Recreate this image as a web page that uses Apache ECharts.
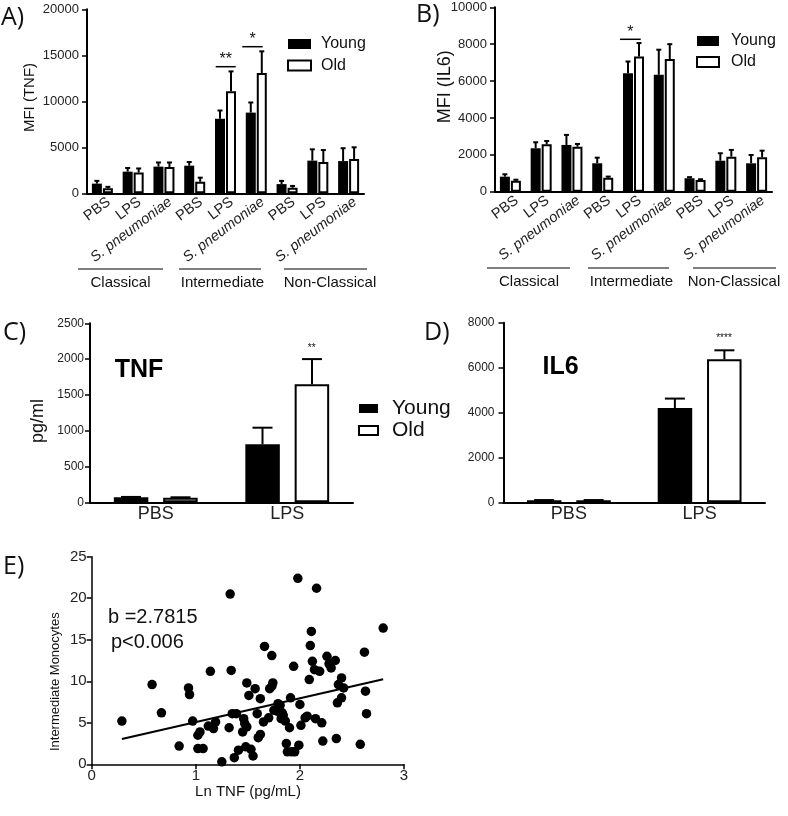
<!DOCTYPE html>
<html><head><meta charset="utf-8">
<script src="https://cdn.jsdelivr.net/npm/echarts@6/dist/echarts.min.js"></script>
<style>html,body{margin:0;padding:0;background:#fff}#c{width:788px;height:816px}</style>
</head><body><div id="c"></div>
<script>
// ---------- DATA ----------
const cellGroups = ['Classical', 'Intermediate', 'Non-Classical'];
const stimuli = ['PBS', 'LPS', 'S. pneumoniae'];
const categoriesAB = cellGroups.flatMap(() => stimuli);

// Panel A: MFI (TNF)
const youngTNF_MFI = [1050, 2350, 2900, 3000, 8100, 8770, 1000, 3550, 3500];
const youngTNF_MFI_err = [300, 400, 450, 400, 900, 1100, 350, 1230, 1400];
const oldTNF_MFI = [550, 2250, 2850, 1250, 11100, 13080, 600, 3400, 3730];
const oldTNF_MFI_err = [150, 450, 500, 450, 2150, 2350, 200, 1300, 1270];
const ticksA = { min: 0, max: 20000, interval: 5000 };

// Panel B: MFI (IL6)
const youngIL6_MFI = [815, 2355, 2535, 1540, 6430, 6340, 730, 1680, 1540];
const youngIL6_MFI_err = [130, 325, 545, 305, 630, 1360, 60, 405, 450];
const oldIL6_MFI = [600, 2570, 2440, 760, 7330, 7190, 635, 1900, 1870];
const oldIL6_MFI_err = [50, 180, 150, 60, 730, 810, 40, 365, 355];
const ticksB = { min: 0, max: 10000, interval: 2000 };

// Panel C / D: secreted cytokines (pg/ml)
const categoriesCD = ['PBS', 'LPS'];
const youngTNF = [70, 810];
const youngTNF_err = [5, 232];
const oldTNF = [65, 1650];
const oldTNF_err = [5, 350];
const ticksC = { min: 0, max: 2500, interval: 500 };
const youngIL6 = [90, 4200];
const youngIL6_err = [10, 420];
const oldIL6 = [90, 6370];
const oldIL6_err = [10, 400];
const ticksD = { min: 0, max: 8000, interval: 2000 };

// Panel E: scatter [Ln TNF, Intermediate Monocytes]
const scatterPoints = [
  [0.29,5.2],[0.58,9.6],[0.67,6.2],[0.84,2.2],[0.93,9.2],[0.94,8.4],[0.97,5.2],[1.02,3.5],[1.04,3.9],[1.02,1.9],
  [1.07,1.9],[1.14,11.2],[1.12,4.6],[1.17,4.3],[1.19,5.1],[1.25,0.3],[1.33,20.5],[1.34,11.3],[1.32,4.4],[1.35,6.1],
  [1.39,6.1],[1.37,0.8],[1.41,1.7],[1.46,5.5],[1.45,3.9],[1.47,4.9],[1.49,9.8],[1.51,8.3],[1.49,4.5],[1.48,2.1],
  [1.53,1.8],[1.55,1.0],[1.57,9.1],[1.59,6.1],[1.60,3.2],[1.62,3.6],[1.62,7.9],[1.65,5.1],[1.66,14.2],[1.70,5.6],
  [1.71,9.1],[1.73,13.1],[1.74,9.8],[1.73,9.4],[1.75,6.5],[1.78,6.4],[1.81,7.1],[1.79,7.3],[1.83,6.2],[1.82,5.5],
  [1.86,5.2],[1.84,5.9],[1.87,2.5],[1.88,1.5],[1.90,4.4],[1.91,8.0],[1.92,1.5],[1.94,11.8],[1.95,1.5],[1.98,22.4],
  [1.99,2.3],[2.00,7.2],[2.01,4.7],[2.05,5.6],[2.07,5.8],[2.09,10.2],[2.10,14.3],[2.11,16.0],[2.12,12.4],[2.16,21.2],
  [2.14,11.4],[2.15,5.5],[2.19,11.2],[2.21,5.0],[2.22,2.8],[2.26,13.0],[2.28,12.1],[2.30,11.6],[2.34,12.5],[2.35,3.1],
  [2.36,7.4],[2.37,9.6],[2.40,8.0],[2.42,9.2],[2.40,10.4],[2.58,2.4],[2.62,13.5],[2.63,8.8],[2.64,6.1],[2.80,16.4]
];
const trendX = [0.29, 2.80];
const trendY = [3.05, 10.25];
const ticksEx = { min: 0, max: 3, interval: 1 };
const ticksEy = { min: 0, max: 25, interval: 5 };

// ---------- CHART ----------
const FONT = 'Liberation Sans, Arial, sans-serif';
const BLACK = '#000';
const chart = echarts.init(document.getElementById('c'), null, { renderer: 'canvas', width: 788, height: 816 });

function valAxis(gi, t, fs, margin, lw) {
  return {
    type: 'value', gridIndex: gi, min: t.min, max: t.max, interval: t.interval,
    axisLine: { show: true, lineStyle: { color: BLACK, width: lw || 2 } },
    axisTick: { show: true, length: 5, lineStyle: { color: BLACK, width: 1.5 } },
    splitLine: { show: false },
    axisLabel: { fontSize: fs, color: '#222', fontFamily: FONT, margin: margin, formatter: v => String(v) }
  };
}
function catAxisAB(gi) {
  return {
    type: 'category', gridIndex: gi, data: categoriesAB,
    axisLine: { lineStyle: { color: BLACK, width: 2 } },
    axisTick: { alignWithLabel: true, length: 5, lineStyle: { color: BLACK, width: 1.5 } },
    axisLabel: {
      interval: 0, rotate: 37, fontSize: 14.5, color: '#222', fontFamily: FONT, margin: 12,
      padding: [0, -8, 0, 0],
      formatter: v => v.startsWith('S.') ? '{it|' + v + '}' : v,
      rich: { it: { fontStyle: 'italic', fontSize: 14.5, fontFamily: FONT, color: '#222' } }
    }
  };
}
function catAxisCD(gi) {
  return {
    type: 'category', gridIndex: gi, data: categoriesCD,
    axisLine: { lineStyle: { color: BLACK, width: 2 } },
    axisTick: { alignWithLabel: true, length: 4, lineStyle: { color: BLACK, width: 1.5 } },
    axisLabel: { fontSize: 18, color: '#222', fontFamily: FONT, margin: 3 }
  };
}

function bars(name, data, gi, bw, gap, young) {
  return {
    type: 'bar', name: name, xAxisIndex: gi, yAxisIndex: gi, data: data,
    barWidth: bw, barGap: gap,
    itemStyle: young ? { color: BLACK } : { color: '#fff', borderColor: BLACK, borderWidth: 2 },
    emphasis: { disabled: true }, z: 2
  };
}
function errBars(vals, errs, gi, offset, capW) {
  return {
    type: 'custom', xAxisIndex: gi, yAxisIndex: gi, z: 3, silent: true,
    data: vals.map((v, i) => [i, v, errs[i]]),
    encode: { x: 0, y: 1 },
    renderItem: (params, api) => {
      const i = api.value(0), v = api.value(1), e = api.value(2);
      const p0 = api.coord([i, v]);
      const p1 = api.coord([i, v + e]);
      const cx = p0[0] + offset;
      const st = { stroke: BLACK, lineWidth: 2 };
      return { type: 'group', children: [
        { type: 'line', shape: { x1: cx, y1: p0[1], x2: cx, y2: p1[1] }, style: st },
        { type: 'line', shape: { x1: cx - capW / 2, y1: p1[1], x2: cx + capW / 2, y2: p1[1] }, style: st }
      ] };
    }
  };
}

function legend(left, top, fs, iw, ih, gap, pad) {
  return {
    orient: 'vertical', left: left, top: top, padding: 0, itemWidth: iw, itemHeight: ih, itemGap: gap,
    icon: 'rect',
    data: ['Young', 'Old'], selectedMode: false,
    textStyle: { fontSize: fs, fontFamily: FONT, color: '#111', lineHeight: fs, padding: [0, 0, 0, pad] }
  };
}

function txt(x, y, text, fs, opts) {
  return Object.assign({ type: 'text', x: x, y: y, style: Object.assign({
    text: text, fontSize: fs, fontFamily: FONT, fill: '#111', textAlign: 'center', textVerticalAlign: 'middle'
  }, (opts && opts.style) || {}) }, (opts && opts.el) || {});
}
function ln(x1, y1, x2, y2, w) {
  return { type: 'line', shape: { x1, y1, x2, y2 }, style: { stroke: BLACK, lineWidth: w || 1.2 } };
}
function vtxt(x, y, text, fs) {
  return { type: 'text', x: x, y: y, rotation: Math.PI / 2,
    style: { text: text, fontSize: fs, fontFamily: FONT, fill: '#111', textAlign: 'center', textVerticalAlign: 'middle' } };
}
function panel(x, y, t) {
  return { type: 'text', x: x, y: y, style: { text: t, fontSize: 25, fontFamily: 'Open Sans, DejaVu Sans, sans-serif', fill: '#111', textAlign: 'left', textVerticalAlign: 'middle' } };
}

const offAB = 5.5, offCD = 24.75;

const option = {
  animation: false,
  textStyle: { fontFamily: FONT },
  grid: [
    { left: 87, top: 9.3, width: 277, height: 184 },
    { left: 495, top: 7.3, width: 277, height: 184.4 },
    { left: 90, top: 323.3, width: 263, height: 179 },
    { left: 503.5, top: 322.7, width: 261.5, height: 179.6 },
    { left: 91.7, top: 556.7, width: 312.3, height: 207.6 }
  ],
  xAxis: [
    catAxisAB(0), catAxisAB(1), catAxisCD(2), catAxisCD(3),
    valAxis(4, ticksEx, 15, 4, 1.5)
  ],
  yAxis: [
    valAxis(0, ticksA, 13, 8),
    valAxis(1, ticksB, 13, 8),
    valAxis(2, ticksC, 12, 6),
    valAxis(3, ticksD, 12, 9),
    valAxis(4, ticksEy, 15, 5, 1.5)
  ],
  legend: [
    legend(287, 36, 16, 23, 10, 5.5, 5),
    legend(696, 33, 16, 22, 10, 5, 7),
    legend(358, 398, 21, 19, 9, 1, 9)
  ],
  series: [
    bars('Young', youngTNF_MFI, 0, 10, '10%', true),
    bars('Old', oldTNF_MFI, 0, 10, '10%', false),
    errBars(youngTNF_MFI, youngTNF_MFI_err, 0, -offAB, 5),
    errBars(oldTNF_MFI, oldTNF_MFI_err, 0, offAB, 5),

    bars('Young', youngIL6_MFI, 1, 10, '10%', true),
    bars('Old', oldIL6_MFI, 1, 10, '10%', false),
    errBars(youngIL6_MFI, youngIL6_MFI_err, 1, -offAB, 5),
    errBars(oldIL6_MFI, oldIL6_MFI_err, 1, offAB, 5),

    bars('Young', youngTNF, 2, 34.5, '43%', true),
    bars('Old', oldTNF, 2, 34.5, '43%', false),
    errBars(youngTNF, youngTNF_err, 2, -offCD, 20),
    errBars(oldTNF, oldTNF_err, 2, offCD, 20),

    bars('Young', youngIL6, 3, 34.5, '43%', true),
    bars('Old', oldIL6, 3, 34.5, '43%', false),
    errBars(youngIL6, youngIL6_err, 3, -offCD, 20),
    errBars(oldIL6, oldIL6_err, 3, offCD, 20),

    {
      type: 'scatter', xAxisIndex: 4, yAxisIndex: 4, data: scatterPoints,
      symbolSize: 9.5, itemStyle: { color: BLACK, opacity: 1 }, emphasis: { disabled: true }
    },
    {
      type: 'line', xAxisIndex: 4, yAxisIndex: 4, data: trendX.map((x, i) => [x, trendY[i]]),
      symbol: 'none', lineStyle: { color: BLACK, width: 2 }, emphasis: { disabled: true }
    }
  ],
  graphic: [
    panel(1, 18, 'A)'), panel(416, 15, 'B)'), panel(3, 333, 'C)'), panel(424, 333, 'D)'), panel(3, 567, 'E)'),
    vtxt(30, 97.5, 'MFI (TNF)', 15),
    vtxt(445, 86.7, 'MFI (IL6)', 18),
    vtxt(38, 421, 'pg/ml', 18),
    vtxt(55, 681.7, 'Intermediate Monocytes', 13),
    txt(248, 792, 'Ln TNF (pg/mL)', 15),
    // group labels A
    ln(78, 269, 163, 269), txt(120.5, 283, 'Classical', 15),
    ln(179, 269, 261, 269), txt(222.5, 283, 'Intermediate', 15),
    ln(284, 269, 367, 269), txt(330, 283, 'Non-Classical', 15),
    // group labels B
    ln(487, 268, 570, 268), txt(529, 282, 'Classical', 15),
    ln(588, 268, 669, 268), txt(631.5, 282, 'Intermediate', 15),
    ln(693, 268, 776, 268), txt(734, 282, 'Non-Classical', 15),
    // significance A
    ln(215.7, 66.7, 235.7, 66.7, 1.5), txt(225.7, 60, '**', 16),
    ln(242.3, 46.7, 262.7, 46.7, 1.5), txt(252.5, 40, '*', 16),
    // significance B
    ln(620, 39.3, 640.7, 39.3, 1.5), txt(630.3, 33, '*', 16),
    // C / D
    txt(139, 370, 'TNF', 25, { style: { fontWeight: 'bold', fill: '#000' } }),
    txt(560.5, 367, 'IL6', 25, { style: { fontWeight: 'bold', fill: '#000' } }),
    txt(311.7, 348, '**', 10),
    txt(724, 338.5, '****', 10),
    // E annotation
    { type: 'text', x: 108, y: 617, style: { text: 'b =2.7815', fontSize: 20, fontFamily: FONT, fill: '#111', textAlign: 'left', textVerticalAlign: 'middle' } },
    { type: 'text', x: 111, y: 642, style: { text: 'p<0.006', fontSize: 20, fontFamily: FONT, fill: '#111', textAlign: 'left', textVerticalAlign: 'middle' } }
  ]
};
chart.setOption(option);
</script></body></html>
